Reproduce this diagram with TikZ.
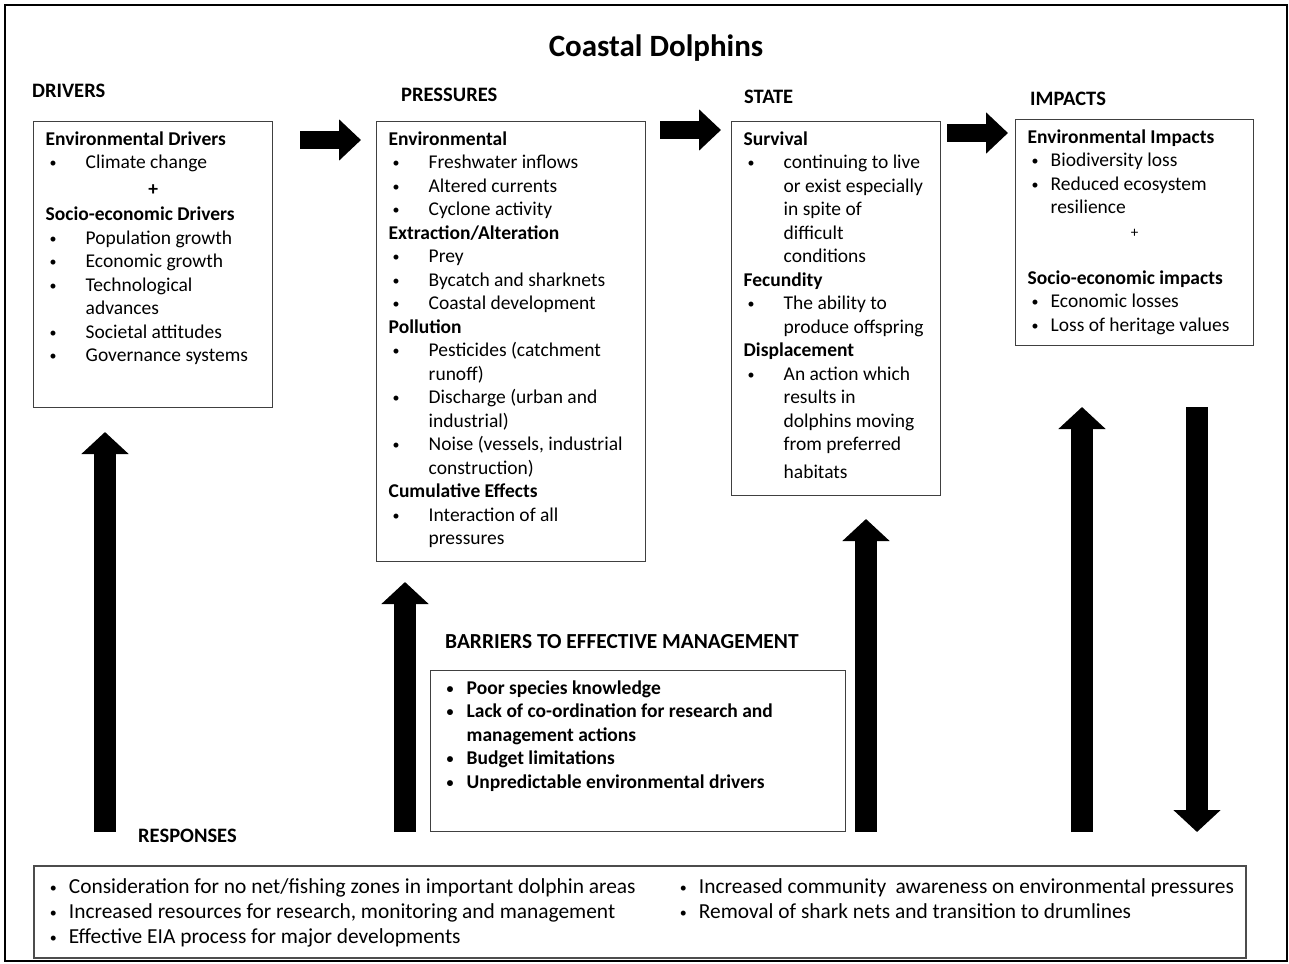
\documentclass[tikz,border=0pt]{standalone}
\usepackage{fontspec}
\setmainfont{Carlito}
\usetikzlibrary{arrows.meta,positioning}

\newcommand{\dotb}{\raisebox{1pt}{\fontsize{14}{14}\selectfont\textbullet}}
\newcommand{\bul}[2][40pt]{\par\hangindent=#1\hangafter=1\noindent\makebox[#1][l]{\hspace{4pt}\dotb}#2}
\newcommand{\hd}[1]{\par\noindent\textbf{#1}}
\newcommand{\nl}{\newline}
\newcommand{\panel}[3]{\parbox[t][#2][t]{#1}{\raggedright\parindent=0pt #3}}

\tikzset{
  panel/.style={draw=black!75,line width=1.4pt,anchor=north west,inner xsep=12pt,inner ysep=10pt,font=\fontsize{19.5}{23.5}\selectfont},
  head/.style={anchor=west,inner sep=0pt,font=\fontsize{20.5}{24}\selectfont\bfseries},
  fwd/.style={line width=18pt,-{Triangle[width=40pt,length=22pt]}},
  vert/.style={line width=22pt,-{Triangle[width=46pt,length=22pt]}}
}

\begin{document}
\begin{tikzpicture}[x=1pt,y=-1pt]
\useasboundingbox (0,0) rectangle (1289,963);
\draw[line width=2pt] (5,5) rectangle (1287,961);
\node[anchor=base,inner sep=0pt,font=\fontsize{31}{36}\selectfont\bfseries] (title) at (656,57) {Coastal Dolphins};
\node[head] (hdrv) at (32,91) {DRIVERS}; \node[head] (hprs) at (401,95) {PRESSURES};
\node[head] (hsta) at (744,97) {STATE}; \node[head] (himp) at (1030,99) {IMPACTS};
\node[head,font=\fontsize{21.4}{25}\selectfont\bfseries] (hbar) at (445,642) {BARRIERS TO EFFECTIVE MANAGEMENT};
\node[head] (hrsp) at (138,836) {RESPONSES};

\node[panel] (drv) at (33,121) {\panel{215pt}{266pt}{%
\hd{Environmental Drivers}
\bul{Climate change}
\par\vspace{3pt}\noindent\makebox[\linewidth]{\textbf{+}}\par\vspace{2pt}
\hd{Socio-economic Drivers}
\bul{Population growth}
\bul{Economic growth}
\bul{Technological\nl advances}
\bul{Societal attitudes}
\bul{Governance systems}}};

\node[panel] (prs) at (376,121) {\panel{245pt}{420pt}{%
\hd{Environmental}
\bul{Freshwater inflows}
\bul{Altered currents}
\bul{Cyclone activity}
\hd{Extraction/Alteration}
\bul{Prey}
\bul{Bycatch and sharknets}
\bul{Coastal development}
\hd{Pollution}
\bul{Pesticides (catchment\nl runoff)}
\bul{Discharge (urban and\nl industrial)}
\bul{Noise (vessels, industrial\nl construction)}
\hd{Cumulative Effects}
\bul{Interaction of all\nl pressures}}};

\node[panel] (sta) at (731,121) {\panel{185pt}{354pt}{%
\hd{Survival}
\bul{continuing to live\nl or exist especially\nl in spite of\nl difficult\nl conditions}
\hd{Fecundity}
\bul{The ability to\nl produce offspring}
\hd{Displacement}
\bul{An action which\nl results in\nl dolphins moving\nl from preferred\nl \rule{0pt}{23pt}habitats}}};

\node[panel] (imp) at (1015,119) {\panel{214pt}{206pt}{%
\hd{Environmental Impacts}
\bul[23pt]{Biodiversity loss}
\bul[23pt]{Reduced ecosystem\nl resilience}
\par\noindent\makebox[\linewidth]{\fontsize{15}{23.5}\selectfont +}\par\vspace{23.5pt}
\hd{Socio-economic impacts}
\bul[23pt]{Economic losses}
\bul[23pt]{Loss of heritage values}}};

\node[panel] (bar) at (430,670) {\panel{391pt}{141pt}{\bfseries
\bul[24pt]{Poor species knowledge}
\bul[24pt]{Lack of co-ordination for research and\nl management actions}
\bul[24pt]{Budget limitations}
\bul[24pt]{Unpredictable environmental drivers}}};

\node[panel,line width=1.8pt,draw=black!70,inner ysep=13pt,font=\fontsize{21.4}{25}\selectfont] (rsp) at (33,865) {\panel{630pt}{66pt}{%
\bul[23pt]{Consideration for no net/fishing zones in important dolphin areas}
\bul[23pt]{Increased resources for research, monitoring and management}
\bul[23pt]{Effective EIA process for major developments}}\panel{558pt}{66pt}{%
\bul[23pt]{Increased community \ awareness on environmental pressures}
\bul[23pt]{Removal of shark nets and transition to drumlines}}};

\coordinate (f1a) at (300,140); \coordinate (f1b) at (361,140);
\coordinate (f2a) at (660,130); \coordinate (f2b) at (721,130);
\coordinate (f3a) at (947,133); \coordinate (f3b) at (1008,133);
\draw[fwd] (f1a) -- (f1b); \draw[fwd] (f2a) -- (f2b); \draw[fwd] (f3a) -- (f3b);

\coordinate (v1a) at (105,832); \coordinate (v1b) at (105,432);
\coordinate (v2a) at (405,832); \coordinate (v2b) at (405,582);
\coordinate (v3a) at (866,832); \coordinate (v3b) at (866,519);
\coordinate (v4a) at (1082,832); \coordinate (v4b) at (1082,407);
\coordinate (v5a) at (1197,407); \coordinate (v5b) at (1197,832);
\draw[vert] (v1a) -- (v1b); \draw[vert] (v2a) -- (v2b); \draw[vert] (v3a) -- (v3b);
\draw[vert] (v4a) -- (v4b); \draw[vert] (v5a) -- (v5b);
\end{tikzpicture}
\end{document}
